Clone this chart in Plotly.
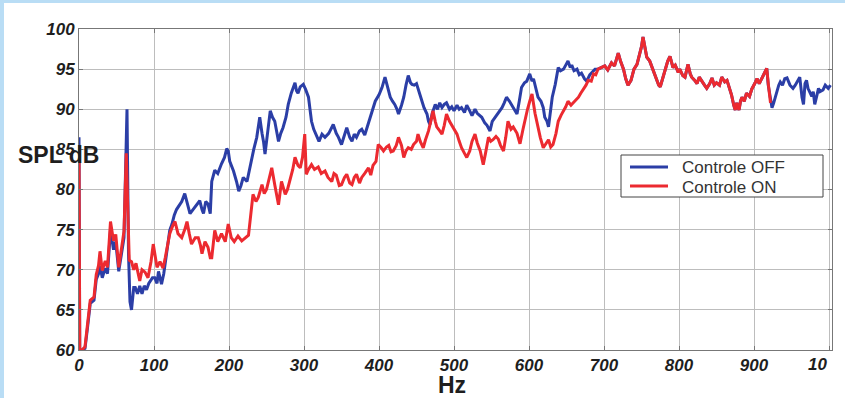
import plotly.graph_objects as go

# ---------------- data ----------------
# "Controle ON" (red), 0..689 Hz
on_pts = [(0,85.5),(1,60.0),(4,60.0),(8,60.4),(11,62.9),(15,66.2),(20,66.6),(23,69.4),(26,70.5),(28,72.3),
          (31,69.9),(35,71.1),(38,70.3),(42,76.0),(46,73.6),(49,74.4),(53,70.3),(57,73.0),(60,74.8),(63,84.5),
          (65,76.0),(67,71.2),(70,71.0),(73,70.0),(76,70.8),(79,69.5),(81,68.6),(84,70.0),(88,69.7),(92,69.0),
          (96,71.0),(99,73.2),(101,72.0),(104,70.3),(108,71.0),(112,70.2),(115,71.5),(117,72.4),(121,74.5),
          (125,75.5),(128,76.0),(132,74.5),(137,74.0),(141,75.0),(144,76.0),(147,74.5),(150,73.2),(155,74.0),
          (159,74.0),(162,73.0),(164,72.0),(168,73.5),(172,72.8),(175,71.5),(177,71.5),(181,74.9),(185,73.5),
          (190,74.5),(195,73.5),(199,75.7),(203,74.0),(207,73.5),(212,74.2),(217,73.6),(222,74.0),(226,74.3),
          (228,76.0),(232,79.4),(236,78.5),(239,79.0),(244,80.6),(247,79.5),(250,80.0),(254,81.5),(257,82.7),
          (261,80.6),(264,79.0),(266,78.1),(270,81.0),(275,79.4),(278,80.0),(281,81.0),(285,82.5),(288,84.0),
          (292,83.0),(295,82.7),(298,84.0),(301,86.9),(303,81.9),(306,82.5),(310,83.1),(314,82.5),(319,82.8),
          (323,82.0),(328,82.3),(332,81.5),(337,81.0),(340,82.0),(343,81.8),(347,80.5),(350,80.6),(354,81.5),
          (357,81.9),(361,80.8),(364,80.6),(367,81.5),(370,81.9),(374,80.8),(377,81.5),(381,82.0),(386,82.7),
          (389,81.8),(392,83.0),(396,83.5),(399,85.6),(403,85.2),(406,84.8),(410,85.3),(413,85.5),(416,84.7),
          (419,84.8),(423,85.5),(426,86.5),(430,85.5),(433,84.0),(436,84.8),(439,85.2),(443,85.0),(446,85.6),
          (450,86.0),(452,86.9),(455,86.0),(459,85.2),(462,86.2),(466,87.3),(469,88.5),(472,89.8),(475,88.5),
          (477,87.8),(481,87.3),(484,86.9),(487,88.0),(490,89.4),(494,88.5),(497,88.0),(500,87.5),(504,86.9),
          (507,86.0),(510,85.2),(514,84.5),(517,84.0),(521,84.8),(524,86.0),(528,86.9),(531,85.8),(535,84.8),
          (539,83.1),(542,84.5),(546,86.5),(549,86.0),(552,86.2),(556,86.6),(559,86.3),(562,85.5),(566,84.8),
          (569,86.5),(572,88.5),(576,87.5),(579,87.8),(584,87.0),(588,85.7),(592,87.5),(595,89.0),(598,90.0),
          (601,91.0),(604,91.9),(608,89.5),(612,87.5),(615,86.5),(619,85.2),(623,85.8),(626,86.2),(629,85.3),
          (632,85.6),(636,87.0),(639,88.5),(643,89.3),(646,89.8),(649,90.3),(652,91.0),(656,90.5),(659,90.8),
          (663,91.2),(666,91.5),(669,92.0),(672,92.4),(676,93.0),(679,93.6),(683,93.5),(686,94.4),(689,94.3)]

# "Controle OFF" (blue), 0..688 Hz
off_pts = [(0,86.5),(1,60.0),(4,60.0),(8,60.2),(11,62.5),(15,65.8),(20,66.2),(23,68.8),(26,69.5),(28,70.5),
           (31,69.0),(35,70.2),(38,69.5),(42,75.0),(46,72.5),(49,73.5),(53,69.8),(57,72.0),(60,74.0),(62,82.0),
           (64,90.0),(66,72.0),(68,66.0),(70,65.0),(73,67.8),(75,67.8),(78,67.0),(81,68.0),(84,67.0),(87,68.0),
           (90,67.5),(93,68.3),(95,68.6),(98,69.0),(101,69.0),(104,68.3),(106,69.8),(108,69.0),(110,68.2),
           (113,69.5),(115,71.0),(118,73.0),(121,74.9),(124,75.7),(127,76.8),(130,77.5),(134,78.0),(137,78.5),
           (141,79.5),(145,78.0),(148,77.0),(152,77.5),(156,78.0),(161,78.6),(164,77.5),(166,77.0),(169,78.5),
           (172,78.2),(175,77.0),(177,81.0),(181,82.4),(185,82.0),(190,83.2),(194,84.0),(197,85.1),(199,84.8),
           (201,83.5),(206,82.3),(210,81.0),(213,79.8),(216,80.5),(219,81.5),(224,81.0),(227,82.5),(230,83.5),
           (233,85.0),(237,86.5),(241,89.0),(244,87.0),(246,86.0),(248,84.4),(251,87.0),(255,89.8),(258,89.0),
           (261,88.5),(264,87.0),(266,86.0),(269,87.0),(272,87.7),(276,89.0),(279,90.6),(283,92.0),(285,92.5),
           (288,93.3),(290,92.3),(292,92.0),(295,92.8),(299,93.1),(302,92.5),(306,91.5),(308,90.0),(310,88.5),
           (313,87.5),(317,86.5),(320,86.0),(324,86.9),(328,86.5),(333,87.0),(336,87.6),(339,88.1),(343,87.0),
           (346,86.5),(350,85.6),(354,86.8),(357,87.7),(361,86.5),(364,86.0),(367,86.9),(370,86.5),(374,87.3),
           (377,87.5),(381,86.8),(385,88.0),(388,89.0),(392,90.0),(395,91.0),(400,91.8),(404,92.7),(408,94.0),
           (411,93.0),(415,91.5),(418,91.0),(421,90.6),(424,90.0),(426,89.4),(430,90.5),(433,91.5),(436,93.0),
           (439,94.2),(442,93.3),(444,93.1),(447,93.0),(450,93.2),(454,92.0),(457,91.0),(460,90.2),(464,89.4),
           (466,88.5),(468,88.1),(471,89.5),(475,90.6),(478,90.0),(481,90.8),(484,90.2),(487,90.6),(490,90.8),
           (494,90.0),(497,90.3),(500,89.8),(504,90.5),(507,90.0),(510,90.2),(514,89.6),(517,90.5),(521,89.8),
           (524,89.2),(528,90.0),(531,89.5),(537,89.0),(541,88.3),(544,88.0),(548,87.3),(551,88.5),(555,89.0),
           (559,89.5),(564,90.2),(567,90.8),(570,91.5),(574,91.0),(577,90.5),(580,90.0),(584,89.4),(587,91.0),
           (590,92.7),(594,93.3),(597,93.5),(601,94.4),(604,93.5),(606,93.8),(609,92.5),(612,91.5),(616,91.0),
           (619,90.2),(621,89.0),(624,88.5),(626,87.8),(628,89.5),(631,91.5),(635,93.1),(639,95.2),(642,94.8),
           (646,95.0),(649,95.5),(652,96.0),(655,95.2),(657,95.5),(660,94.8),(664,95.0),(667,94.3),(670,94.5),
           (674,93.8),(677,93.5),(681,94.3),(684,94.6),(688,95.0)]

# range where both curves coincide (red drawn on top), 692..917 Hz
shared_pts = [(692,95.0),(697,95.2),(701,95.4),(705,94.9),(710,95.8),(714,95.4),(719,97.0),(722,96.0),
              (726,95.0),(729,93.8),(732,93.0),(736,93.6),(740,95.0),(744,95.6),(748,97.0),(750,97.8),
              (752,99.0),(755,97.2),(757,96.5),(761,96.0),(764,95.2),(767,94.5),(770,93.8),(773,93.0),
              (775,92.8),(778,93.8),(781,95.0),(785,96.0),(788,96.6),(792,95.2),(795,95.5),(799,94.6),
              (801,95.0),(805,94.2),(808,94.0),(812,95.6),(815,94.4),(817,94.0),(821,93.6),(824,93.2),
              (827,94.0),(830,93.5),(834,93.0),(837,92.6),(841,93.2),(844,93.9),(847,93.0),(850,93.3),
              (854,93.0),(857,94.0),(861,93.4),(864,93.6),(867,92.8),(870,91.8),(873,90.5),(875,89.9),
              (877,90.8),(880,89.9),(882,91.0),(884,91.5),(887,91.0),(890,92.0),(894,91.6),(897,92.5),
              (901,93.2),(904,93.8),(907,93.2),(910,93.8),(914,94.4),(917,95.1)]

on_end_pts = [(919,93.2),(922,90.8)]

off_end_pts = [(919,93.0),(921,91.6),(924,90.2),(926,90.7),(930,92.2),(933,93.0),(935,93.4),(938,93.0),
               (941,93.8),(944,93.9),(948,93.0),(952,92.6),(955,93.0),(959,93.6),(961,94.0),(964,91.5),
               (966,90.6),(968,93.2),(970,93.6),(972,92.6),(975,92.0),(977,91.6),(979,92.2),(981,90.6),
               (984,91.8),(986,92.6),(988,92.2),(992,92.4),(995,93.0),(999,92.6),(1002,93.0)]

x_tick_vals = [0, 100, 200, 300, 400, 500, 600, 700, 800, 900, 1000]
x_tick_text = ["0", "100", "200", "300", "400", "500", "600", "700", "800", "900", ""]
x_last_label = "10"          # the last tick label is shown cut to "10" in the reference
y_tick_vals = [60, 65, 70, 75, 80, 85, 90, 95, 100]

series_names = ["Controle OFF", "Controle ON"]
x_title = "Hz"
y_title = "SPL dB"

# ---------------- assemble ----------------
on_all = on_pts + shared_pts + on_end_pts
off_all = off_pts + shared_pts + off_end_pts
on_x = [p[0] for p in on_all]
on_y = [p[1] for p in on_all]
off_x = [p[0] for p in off_all]
off_y = [p[1] for p in off_all]

BLUE = "#2b3ea6"
RED = "#ec2a30"
FRAME = "#b9ddf5"
FONT = "Liberation Sans, Arial, sans-serif"

W, H = 845, 398
PL, PR, PT, PB = 79, 832, 29, 350   # plot-area pixel box


def fx(p):
    return (p - PL) / (PR - PL)


def fy(p):
    return (PB - p) / (PB - PT)


fig = go.Figure()
fig.add_trace(go.Scatter(x=off_x, y=off_y, mode="lines", name=series_names[0],
                         line=dict(color=BLUE, width=3)))
fig.add_trace(go.Scatter(x=on_x, y=on_y, mode="lines", name=series_names[1],
                         line=dict(color=RED, width=3)))

tick_font = dict(family=FONT, size=17, color="#1e1e1e", weight="bold", style="italic")
axis_common = dict(ticks="inside", ticklen=4, tickcolor="#777777", showline=True,
                   linecolor="#777777", linewidth=1, mirror="ticks", showgrid=True,
                   gridcolor="#bdbdbd", gridwidth=1, zeroline=False, tickfont=tick_font,
                   automargin=False)

shapes = [
    # white inner page over the light-blue frame
    dict(type="rect", xref="paper", yref="paper", x0=fx(4), x1=fx(860), y0=fy(410), y1=fy(3),
         fillcolor="white", line=dict(width=0), layer="below"),
    # legend box
    dict(type="rect", xref="paper", yref="paper", x0=fx(621), x1=fx(823), y0=fy(197), y1=fy(155),
         fillcolor="white", line=dict(color="#444444", width=1), layer="above"),
    dict(type="line", xref="paper", yref="paper", x0=fx(630), x1=fx(668), y0=fy(167), y1=fy(167),
         line=dict(color=BLUE, width=3), layer="above"),
    dict(type="line", xref="paper", yref="paper", x0=fx(630), x1=fx(668), y0=fy(186), y1=fy(186),
         line=dict(color=RED, width=3), layer="above"),
]

annotations = [
    dict(text=y_title, xref="paper", yref="paper", x=fx(16), y=fy(155), xanchor="left", yanchor="middle",
         showarrow=False, font=dict(family=FONT, size=23, color="#1e1e1e", weight="bold")),
    dict(text=x_title, xref="paper", yref="paper", x=fx(452), y=fy(385), xanchor="center", yanchor="middle",
         height=20, valign="middle", showarrow=False,
         font=dict(family=FONT, size=23, color="#1e1e1e", weight="bold")),
    dict(text=x_last_label, xref="x", yref="paper", x=x_tick_vals[-1], y=fy(364), xanchor="right",
         yanchor="middle", showarrow=False, font=tick_font),
    dict(text=series_names[0], xref="paper", yref="paper", x=fx(680), y=fy(167), xanchor="left",
         yanchor="middle", showarrow=False, font=dict(family=FONT, size=17, color="#333333")),
    dict(text=series_names[1], xref="paper", yref="paper", x=fx(680), y=fy(187), xanchor="left",
         yanchor="middle", showarrow=False, font=dict(family=FONT, size=17, color="#333333")),
]

fig.update_layout(
    width=W, height=H, autosize=False,
    margin=dict(l=PL, r=W - PR, t=PT, b=H - PB, pad=0),
    paper_bgcolor=FRAME, plot_bgcolor="white",
    showlegend=False,
    xaxis=dict(range=[0, 1004], tickvals=x_tick_vals, ticktext=x_tick_text, ticklabelstandoff=0,
               **axis_common),
    yaxis=dict(range=[60, 100], tickvals=y_tick_vals, **axis_common),
    shapes=shapes,
    annotations=annotations,
)

fig.write_html("out.html", config={"displayModeBar": False},
               post_script="document.body.style.margin='0';document.body.style.overflow='hidden';")
